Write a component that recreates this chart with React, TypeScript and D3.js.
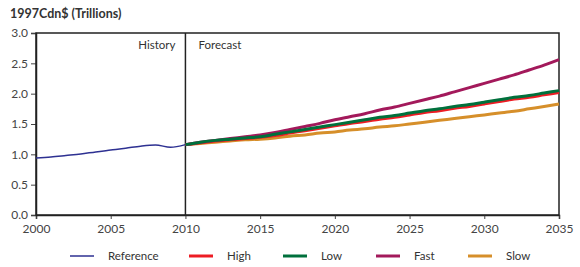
import React, { useEffect, useRef } from "react";
import * as d3 from "d3";

const histYears = [2000, 2001, 2002, 2003, 2004, 2005, 2006, 2007, 2008, 2009, 2010];
const reference = [0.94, 0.956, 0.98, 1.005, 1.04, 1.07, 1.1, 1.135, 1.154, 1.116, 1.16];

const fcYears = d3.range(2010, 2036);
const high = [1.16, 1.19, 1.22, 1.24, 1.26, 1.28, 1.31, 1.35, 1.39, 1.43, 1.47, 1.51, 1.54, 1.58, 1.61, 1.65, 1.69, 1.72, 1.76, 1.79, 1.83, 1.87, 1.91, 1.94, 1.98, 2.02];
const low = [1.16, 1.2, 1.23, 1.25, 1.27, 1.29, 1.33, 1.37, 1.41, 1.45, 1.49, 1.53, 1.57, 1.61, 1.64, 1.68, 1.72, 1.75, 1.79, 1.82, 1.86, 1.9, 1.94, 1.97, 2.01, 2.05];
const fast = [1.16, 1.2, 1.23, 1.26, 1.29, 1.32, 1.36, 1.41, 1.46, 1.51, 1.57, 1.62, 1.67, 1.73, 1.78, 1.84, 1.9, 1.96, 2.03, 2.1, 2.17, 2.24, 2.31, 2.39, 2.47, 2.56];
const slow = [1.16, 1.18, 1.2, 1.22, 1.24, 1.25, 1.27, 1.3, 1.32, 1.35, 1.37, 1.4, 1.42, 1.45, 1.47, 1.5, 1.53, 1.56, 1.59, 1.62, 1.65, 1.68, 1.71, 1.75, 1.79, 1.83];

const xTicks = [2000, 2005, 2010, 2015, 2020, 2025, 2030, 2035];
const yTicks = [0, 0.5, 1, 1.5, 2, 2.5, 3];

const series = [
  { name: "Reference", years: histYears, values: reference, color: "#2e3192", width: 1.5 },
  { name: "High", years: fcYears, values: high, color: "#ed1c24", width: 3 },
  { name: "Low", years: fcYears, values: low, color: "#00703c", width: 3 },
  { name: "Fast", years: fcYears, values: fast, color: "#a3195b", width: 3 },
  { name: "Slow", years: fcYears, values: slow, color: "#d68f2a", width: 3 },
];

export default function App() {
  const svgRef = useRef<SVGSVGElement>(null);

  useEffect(() => {
    const w = 580;
    const h = 267;
    const svg = d3.select(svgRef.current).attr("width", w).attr("height", h);
    svg.selectAll("*").remove();
    const font = "Lato, 'DejaVu Sans', sans-serif";

    const x = d3.scaleLinear().domain([2000, 2035]).range([36, 559]);
    const y = d3.scaleLinear().domain([0, 3]).range([215, 33]);

    // title
    svg.append("text")
      .attr("x", 10).attr("y", 18)
      .attr("font-family", font).attr("font-size", 12.5).attr("font-weight", "bold")
      .attr("fill", "#333")
      .text("1997Cdn$ (Trillions)");

    // axes
    const xAxis = svg.append("g")
      .attr("transform", `translate(0,${y(0)})`)
      .call(d3.axisBottom(x).tickValues(xTicks).tickFormat(d3.format("d")).tickSize(4).tickPadding(5));
    const yAxis = svg.append("g")
      .attr("transform", `translate(${x(2000)},0)`)
      .call(d3.axisLeft(y).tickValues(yTicks).tickFormat(d3.format(".1f")).tickSize(5).tickPadding(3));
    [xAxis, yAxis].forEach((g) => {
      g.select(".domain").attr("stroke", "#222").attr("stroke-width", 1.5);
      g.selectAll(".tick line").attr("stroke", "#444");
      g.selectAll(".tick text").attr("font-family", font).attr("font-size", 12).attr("fill", "#444");
    });

    // frame
    svg.append("rect")
      .attr("x", x(2000)).attr("y", y(3))
      .attr("width", x(2035) - x(2000)).attr("height", y(0) - y(3))
      .attr("fill", "none").attr("stroke", "#222").attr("stroke-width", 1.5);

    // history / forecast divider
    svg.append("line")
      .attr("x1", x(2010)).attr("x2", x(2010))
      .attr("y1", y(3)).attr("y2", y(0))
      .attr("stroke", "#222").attr("stroke-width", 1.5);
    svg.append("text")
      .attr("x", x(2010) - 10).attr("y", 49)
      .attr("text-anchor", "end")
      .attr("font-family", font).attr("font-size", 11.5).attr("fill", "#333")
      .text("History");
    svg.append("text")
      .attr("x", x(2010) + 13).attr("y", 49)
      .attr("font-family", font).attr("font-size", 11.5).attr("fill", "#333")
      .text("Forecast");

    const line = d3.line<[number, number]>()
      .x((d) => x(d[0]))
      .y((d) => y(d[1]))
      .curve(d3.curveMonotoneX);

    // draw order keeps Fast/Low on top like the reference
    const order = ["Reference", "Slow", "High", "Fast", "Low"];
    order.forEach((n) => {
      const s = series.find((d) => d.name === n)!;
      svg.append("path")
        .datum(s.years.map((yr, i) => [yr, s.values[i]] as [number, number]))
        .attr("d", line)
        .attr("fill", "none")
        .attr("stroke", s.color)
        .attr("stroke-width", s.width)
        .attr("stroke-linejoin", "round");
    });

    // legend
    const legendX = [70, 189, 283, 376, 468];
    const lg = svg.append("g").attr("transform", "translate(0,256)");
    series.forEach((s, i) => {
      lg.append("line")
        .attr("x1", legendX[i]).attr("x2", legendX[i] + 24)
        .attr("y1", 0).attr("y2", 0)
        .attr("stroke", s.color)
        .attr("stroke-width", i === 0 ? 1.5 : 3);
      lg.append("text")
        .attr("x", legendX[i] + 38).attr("y", 4)
        .attr("font-family", font).attr("font-size", 11.5).attr("fill", "#333")
        .text(s.name);
    });
  }, []);

  return (
    <div>
      <svg ref={svgRef} style={{ position: "absolute", left: 0, top: 0, display: "block" }}></svg>
    </div>
  );
}
